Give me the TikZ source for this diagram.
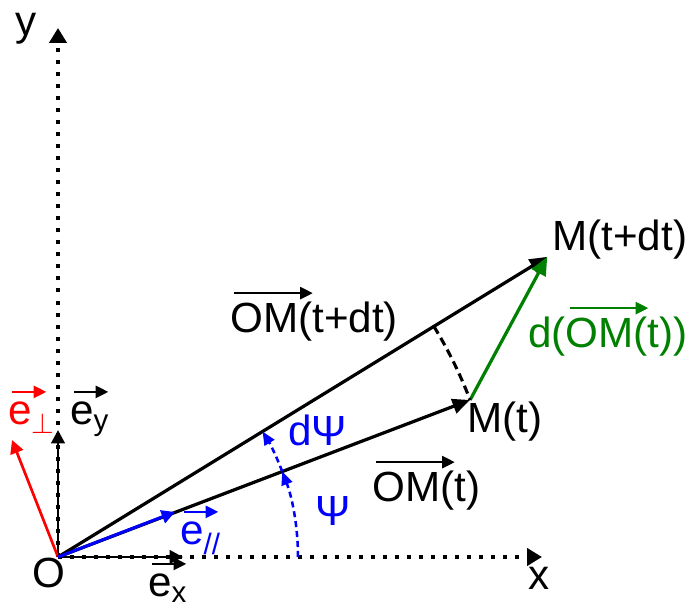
\documentclass[tikz,border=0pt]{standalone}
\usepackage{fontspec}
\setmainfont{Liberation Sans}
\usetikzlibrary{arrows.meta}
\definecolor{vecRed}{RGB}{255,0,0}
\definecolor{vecBlue}{RGB}{0,0,255}
\definecolor{vecGreen}{RGB}{0,128,0}
\newcommand{\VecOver}[1]{%
\begin{tikzpicture}[baseline=(w.base)]
  \node[inner sep=0pt] (w) {#1};
  \draw[overlay,line width=1.9pt,-{Triangle[length=9pt,width=8.5pt]}] ([xshift=0.1em,yshift=0.24em]w.north west) -- ([xshift=0.34em,yshift=0.24em]w.north east);
\end{tikzpicture}}

\begin{document}
\begin{tikzpicture}[x=0.025cm,y=0.025cm,
  axis/.style={line width=2.85pt,dash pattern=on 2.85pt off 5.7pt,-{Triangle[length=10.5pt,width=12pt]}},
  vecline/.style={line width=2.3pt,-{Triangle[length=12.5pt,width=10.5pt]}},
  unitvec/.style={line width=2.1pt,-{Triangle[length=9.5pt,width=9.5pt]}},
  anglearc/.style={vecBlue,line width=1.8pt,dash pattern=on 4.3pt off 2.8pt,-{Triangle[length=9.5pt,width=8pt]}},
  lbl/.style={inner sep=0pt,anchor=base west,font=\fontsize{30}{36}\selectfont}]
\useasboundingbox (-58,-53) rectangle (639,557);

% points
\coordinate (O) at (0,0);
\coordinate (xEnd) at (484,0);
\coordinate (yEnd) at (0,529);
\coordinate (exEnd) at (125,0);
\coordinate (eyEnd) at (0,127);
\coordinate (eperpEnd) at (-46,117);
\coordinate (eparEnd) at (117,45);
\coordinate (Mt) at (20.86:441);
\coordinate (Mdt) at (31.53:574);
\coordinate (arcStart) at (31.53:441);
\coordinate (psiStart) at (0:240);
\coordinate (psiMid) at (20.86:240);

% axes
\draw[axis] (O) -- (xEnd);
\draw[axis] (O) -- (yEnd);

% unit vectors
\draw[unitvec] (O) -- (exEnd);
\draw[unitvec] (O) -- (eyEnd);
\draw[unitvec,vecRed,line width=1.9pt] (O) -- (eperpEnd);

% position vectors
\draw[vecline] (O) -- (Mt);
\draw[vecline] (O) -- (Mdt);
\draw[unitvec,vecBlue] (O) -- (eparEnd);
\draw[vecline,vecGreen,-{Triangle[length=13pt,width=11pt]}] (Mt) -- (Mdt);
\draw[line width=2.2pt,dash pattern=on 6pt off 3.5pt] (arcStart) arc[start angle=31.53,end angle=20.86,radius=441];

% angles
\draw[anglearc] (psiStart) arc[start angle=0,end angle=20.86,radius=240];
\draw[anglearc] (psiMid) arc[start angle=20.86,end angle=31.53,radius=240];

% labels
\node[lbl] (yLabel) at (-43,521) {y};
\node[lbl] (xLabel) at (470,-33) {x};
\node[lbl] (oLabel) at (-26,-31) {O};
\node[lbl] (exLabel) at (90,-40) {\VecOver{e}\textsubscript{x}};
\node[lbl] (eyLabel) at (12,132) {\VecOver{e}\textsubscript{y}};
\node[lbl,text=vecRed] (eperpLabel) at (-50,132) {\VecOver{e}\textsubscript{$\perp$}};
\node[lbl,text=vecBlue] (eparLabel) at (122,12) {\VecOver{e}\textsubscript{//}};
\node[lbl,text=vecBlue] (dpsiLabel) at (230,111) {dΨ};
\node[lbl,text=vecBlue] (psiLabel) at (257,31) {Ψ};
\node[lbl] (omtLabel) at (314,55) {\VecOver{OM}(t)};
\node[lbl] (mtLabel) at (409,124) {M(t)};
\node[lbl] (mdtLabel) at (494,306) {M(t+dt)};
\node[lbl,text=vecGreen] (domLabel) at (470,209) {d(\VecOver{OM}(t))};
\node[lbl] (omdtLabel) at (172,224) {\VecOver{OM}(t+dt)};
\end{tikzpicture}
\end{document}
